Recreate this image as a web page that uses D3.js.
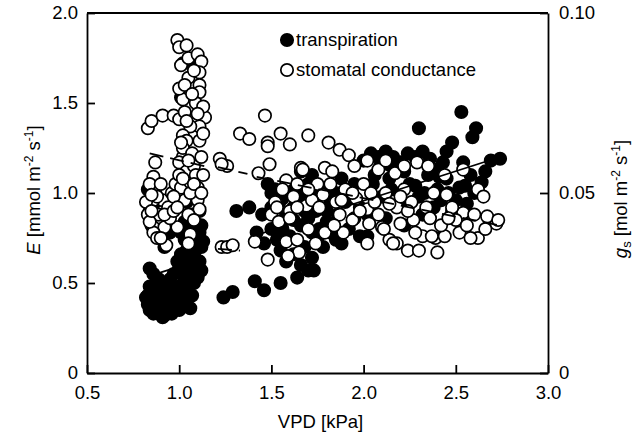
<!DOCTYPE html>
<html><head><meta charset="utf-8">
<script src="https://cdn.jsdelivr.net/npm/d3@7/dist/d3.min.js"></script>
<style>
html,body{margin:0;padding:0;background:#fff;}
svg{display:block;font-family:Arial,"Liberation Sans",sans-serif;}
</style></head>
<body><svg id="c" width="640" height="437"></svg>
<script>
// ---- data ----
const xTicks = [0.5, 1.0, 1.5, 2.0, 2.5, 3.0];
const eTicks = [0, 0.5, 1.0, 1.5, 2.0];
const gsTicks = [0, 0.05, 0.10];
const legendLabels = ["transpiration", "stomatal conductance"];

// transpiration E [mmol m-2 s-1] vs VPD [kPa]
const transpVPD = [
 0.83,0.83,0.84,0.85,0.85,0.86,0.86,0.87,0.87,0.88,0.88,0.89,0.90,0.90,0.91,0.92,0.92,0.93,0.94,0.95,0.95,0.84,0.89,0.96,0.97,
 0.82,0.84,0.86,0.88,0.91,0.93,0.95,0.97,0.99,1.01,1.03,1.05,1.07,1.09,1.11,1.13,1.12,1.00,1.06,0.96,0.99,
 0.83,0.84,0.85,0.88,0.92,0.95,0.87,0.94,
 0.98,0.99,1.00,1.01,1.02,1.03,1.04,1.05,1.06,1.07,1.08,1.09,1.10,1.11,1.12,1.00,1.02,1.04,1.06,1.08,1.10,1.12,1.01,1.03,1.05,1.07,1.09,1.11,1.04,1.08,1.01,1.02,1.09,
 1.24,1.29,1.41,1.46,1.55,1.64,1.70,1.73,1.31,1.38,
 1.48,1.52,1.56,1.60,1.65,1.70,1.50,1.58,1.62,1.68,1.74,
 1.45,1.50,1.54,1.58,1.62,1.66,1.70,1.74,1.78,1.82,1.86,1.76,1.80,1.56,1.60,1.66,1.72,
 1.42,1.46,1.50,1.53,1.55,1.58,1.62,1.66,1.68,1.72,1.75,1.78,1.82,1.85,1.88,1.92,1.95,1.98,
 1.66,1.72,2.00,2.04,2.08,2.12,2.16,2.20,2.24,2.28,2.32,2.36,2.09,
 2.05,2.10,2.15,2.20,2.25,2.30,2.35,2.40,2.45,2.50,2.55,2.60,2.38,2.48,1.85,1.90,1.95,1.80,1.88,1.98,2.02,
 2.06,2.14,2.22,2.28,2.33,2.42,2.46,2.56,2.58,2.64,2.66,
 2.53,2.30,2.61,2.59,2.48,2.45,2.43,2.69,2.74,2.54,2.41,2.52,2.40,2.15,
 2.02,2.12,2.22,2.32
];
const transpE = [
 0.38,0.43,0.35,0.40,0.47,0.33,0.55,0.38,0.44,0.35,0.50,0.41,0.34,0.46,0.38,0.32,0.43,0.36,0.40,0.34,0.47,0.58,0.52,0.39,0.43,
 0.42,0.48,0.37,0.42,0.31,0.47,0.52,0.55,0.62,0.66,0.74,0.60,0.64,0.70,0.78,0.73,0.82,0.35,0.36,0.33,0.56,
 1.02,0.90,0.82,0.76,0.70,0.78,0.95,0.88,
 0.36,0.42,0.48,0.38,0.45,0.52,0.40,0.47,0.55,0.43,0.50,0.58,0.53,0.62,0.57,0.58,0.64,0.68,0.72,0.66,0.75,0.70,0.78,0.84,0.80,0.88,0.83,0.90,0.95,0.99,1.53,1.72,1.70,
 0.42,0.45,0.51,0.46,0.50,0.53,0.57,0.57,0.90,0.92,
 1.05,1.02,0.97,1.00,0.95,1.05,0.92,0.88,0.85,0.90,0.98,
 0.88,1.00,0.94,1.02,0.92,1.00,0.86,0.90,1.02,0.96,0.88,0.80,0.84,0.80,0.76,0.82,0.78,
 0.78,0.72,0.80,0.74,0.68,0.62,0.66,0.60,0.70,0.64,0.75,0.70,0.78,0.74,0.72,0.80,0.86,0.76,
 1.12,1.10,1.18,1.22,1.20,1.23,1.20,1.17,1.22,1.20,1.23,1.19,1.15,
 1.05,0.98,1.02,0.95,1.05,0.98,1.10,1.02,1.08,0.96,1.04,1.00,0.92,0.90,1.00,0.95,1.05,0.90,1.08,0.92,0.88,
 1.10,1.08,1.12,1.04,1.00,0.96,1.00,0.94,1.10,1.06,1.12,
 1.45,1.36,1.36,1.31,1.28,1.23,1.17,1.18,1.19,1.17,1.09,1.03,1.13,1.15,
 0.76,0.86,0.82,0.88
];

// stomatal conductance gs [mol m-2 s-1] vs VPD [kPa]
const gsVPD = [
 0.83,0.85,0.91,0.97,1.00,0.87,0.86,0.87,0.91,0.86,0.82,0.86,0.92,0.99,1.06,1.05,0.93,0.86,0.84,0.83,0.89,0.94,0.96,0.88,0.95,
 0.84,0.85,0.88,0.90,0.92,0.97,0.98,0.85,0.90,
 0.99,1.00,1.01,1.05,1.10,1.12,1.11,1.05,1.11,1.11,1.02,1.14,1.11,1.06,1.02,1.04,1.02,1.00,1.11,1.13,1.01,1.06,1.10,1.10,1.03,0.97,0.99,1.11,1.04,1.08,1.02,1.07,1.09,1.00,1.05,1.08,1.03,1.09,1.00,1.06,
 1.04,1.08,1.03,1.07,1.13,1.04,1.10,1.12,1.01,1.05,1.13,1.02,1.08,1.12,
 1.22,1.26,1.23,1.23,1.26,1.29,
 1.465,1.33,1.38,1.48,1.55,1.60,1.48,1.70,1.49,1.43,1.66,1.58,
 1.81,1.87,1.92,1.67,1.79,1.83,2.02,2.08,2.17,2.29,
 1.69,1.78,1.87,1.79,1.89,1.94,2.02,2.03,2.10,2.02,2.14,2.18,2.24,2.30,2.20,2.27,2.32,2.16,2.40,2.39,2.44,2.52,2.62,2.72,2.11,
 2.54,2.62,2.65,2.45,2.54,2.67,2.73,2.58,2.37,2.38,
 1.52,1.56,1.62,1.50,1.54,1.60,1.64,1.72,1.75,1.85,1.90,1.96,2.00,2.06,2.12,2.18,2.22,2.26,2.34,2.48,2.50,1.41,1.48,1.58,1.65,1.59,1.64,1.53,1.64,1.60,
 1.70,1.76,1.82,1.88,1.94,1.98,2.04,2.08,2.14,2.20,2.24,2.28,2.36,2.42,2.46,2.56,2.60,2.66,1.95,2.12,2.22,2.35,2.44,1.70,1.74,1.84
];
const gsVal = [
 0.068,0.070,0.0715,0.0715,0.0705,0.0585,0.0545,0.051,0.048,0.048,0.0475,0.0405,0.0405,0.0405,0.0385,0.036,0.0355,0.039,0.0525,0.044,0.044,0.046,0.050,0.0375,0.043,
 0.042,0.045,0.049,0.0525,0.044,0.045,0.0525,0.0495,0.0375,
 0.0925,0.0905,0.0855,0.0875,0.0885,0.0865,0.0835,0.082,0.080,0.078,0.076,0.071,0.0685,0.0685,0.066,0.0645,0.060,0.0585,0.0645,0.0665,0.0515,0.053,0.0515,0.048,0.048,0.049,0.046,0.0455,0.056,0.0575,0.0625,0.061,0.055,0.055,0.044,0.0425,0.0725,0.075,0.079,0.050,
 0.091,0.084,0.080,0.0775,0.074,0.070,0.072,0.060,0.064,0.059,0.055,0.054,0.0525,0.050,
 0.0595,0.0575,0.058,0.035,0.035,0.0355,
 0.0715,0.0665,0.065,0.064,0.0665,0.0635,0.063,0.066,0.058,0.0555,0.057,0.0535,
 0.064,0.062,0.0605,0.0565,0.057,0.056,0.059,0.0565,0.0555,0.0585,
 0.0465,0.0495,0.044,0.039,0.039,0.0425,0.0455,0.0415,0.0405,0.036,0.037,0.036,0.034,0.034,0.0415,0.0425,0.038,0.036,0.0335,0.0375,0.038,0.039,0.0375,0.0415,0.040,
 0.0565,0.051,0.049,0.0495,0.0445,0.0435,0.0425,0.0375,0.038,0.050,
 0.0475,0.051,0.049,0.044,0.042,0.045,0.0525,0.048,0.0525,0.0475,0.051,0.0485,0.0525,0.0475,0.050,0.046,0.051,0.0475,0.046,0.046,0.0425,0.0365,0.0315,0.0365,0.0335,0.0325,0.037,0.046,0.046,0.043,
 0.051,0.046,0.0525,0.048,0.050,0.045,0.050,0.044,0.047,0.049,0.045,0.039,0.043,0.041,0.043,0.041,0.044,0.040,0.0575,0.059,0.0575,0.0575,0.055,0.040,0.036,0.041
];

// fitted lines (start/end VPD and value)
const eFitVPD = [[0.84, 1.12], [1.40, 2.74]];
const eFitVal = [[0.54, 0.63], [0.76, 1.20]];
const gsFitVPD = [[0.84, 1.16], [1.21, 1.37], [1.42, 2.74], [1.21, 1.33]];
const gsFitVal = [[0.061, 0.0572], [0.0572, 0.0553], [0.0545, 0.041], [0.0345, 0.034]];

// ---- chart ----
const svg = d3.select("#c");
const L = 87, R = 548, T = 13, B = 373;
const x = d3.scaleLinear().domain([0.5, 3.0]).range([L, R]);
const yE = d3.scaleLinear().domain([0, 2]).range([B, T]);
const yG = d3.scaleLinear().domain([0, 0.1]).range([B, T]);
const FS = 18.5, rad = 6.2, sw = 1.7;

const tAxisFmt = (f) => d => d === 0 ? "0" : d3.format(f)(d);

const gx = svg.append("g").attr("transform", `translate(0,${B})`)
  .call(d3.axisBottom(x).tickValues(xTicks).tickFormat(d3.format(".1f")).tickSizeInner(-8).tickSizeOuter(0).tickPadding(13));
const gl = svg.append("g").attr("transform", `translate(${L},0)`)
  .call(d3.axisLeft(yE).tickValues(eTicks).tickFormat(tAxisFmt(".1f")).tickSizeInner(-8).tickSizeOuter(0).tickPadding(9));
const gr = svg.append("g").attr("transform", `translate(${R},0)`)
  .call(d3.axisRight(yG).tickValues(gsTicks).tickFormat(tAxisFmt(".2f")).tickSizeInner(-8).tickSizeOuter(0).tickPadding(11));
[gx, gl, gr].forEach(g => {
  g.selectAll("text").attr("font-size", FS).attr("fill", "#000").attr("font-family", 'Arial,"Liberation Sans",sans-serif');
  g.selectAll("line").attr("stroke", "#000").attr("stroke-width", 1.8);
  g.select(".domain").attr("stroke", "#000").attr("stroke-width", 1.8);
});
// top border
svg.append("line").attr("x1", L).attr("x2", R).attr("y1", T).attr("y2", T).attr("stroke", "#000").attr("stroke-width", 1.8);

const plot = svg.append("g");
// transpiration (filled)
plot.selectAll("circle.e").data(transpVPD.map((v, i) => [v, transpE[i]])).join("circle")
  .attr("class", "e").attr("cx", d => x(d[0])).attr("cy", d => yE(d[1])).attr("r", rad)
  .attr("fill", "#000").attr("stroke", "#000").attr("stroke-width", sw);
// gs (open)
plot.selectAll("circle.g").data(gsVPD.map((v, i) => [v, gsVal[i]])).join("circle")
  .attr("class", "g").attr("cx", d => x(d[0])).attr("cy", d => yG(d[1])).attr("r", rad)
  .attr("fill", "#fff").attr("stroke", "#000").attr("stroke-width", sw);

// fit lines
eFitVPD.forEach((xs, i) => {
  plot.append("line").attr("x1", x(xs[0])).attr("x2", x(xs[1]))
    .attr("y1", yE(eFitVal[i][0])).attr("y2", yE(eFitVal[i][1]))
    .attr("stroke", "#000").attr("stroke-width", 1.8);
});
gsFitVPD.forEach((xs, i) => {
  plot.append("line").attr("x1", x(xs[0])).attr("x2", x(xs[1]))
    .attr("y1", yG(gsFitVal[i][0])).attr("y2", yG(gsFitVal[i][1]))
    .attr("stroke", "#000").attr("stroke-width", 1.8).attr("stroke-dasharray", "14,7");
});

// legend
const lg = svg.append("g");
[0, 1].forEach(i => {
  const cy = 40 + i * 30;
  lg.append("circle").attr("cx", 287).attr("cy", cy).attr("r", rad)
    .attr("fill", i === 0 ? "#000" : "#fff").attr("stroke", "#000").attr("stroke-width", sw);
  lg.append("text").attr("x", 296).attr("y", cy + 6).attr("font-size", FS).text(legendLabels[i]);
});

// axis titles
svg.append("text").attr("x", (L + R) / 2 + 3).attr("y", 428).attr("text-anchor", "middle")
  .attr("font-size", FS).text("VPD [kPa]");

const lt = svg.append("text").attr("text-anchor", "middle").attr("font-size", FS)
  .attr("transform", "translate(40,190) rotate(-90)");
lt.append("tspan").attr("font-style", "italic").text("E");
lt.append("tspan").text(" [mmol m");
lt.append("tspan").attr("dy", -7).attr("font-size", 12).text("-2");
lt.append("tspan").attr("dy", 7).text(" s");
lt.append("tspan").attr("dy", -7).attr("font-size", 12).text("-1");
lt.append("tspan").attr("dy", 7).text("]");

const rt = svg.append("text").attr("text-anchor", "middle").attr("font-size", FS)
  .attr("transform", "translate(627,199) rotate(-90)");
rt.append("tspan").attr("font-style", "italic").text("g");
rt.append("tspan").attr("dy", 4).attr("font-size", 13).text("s");
rt.append("tspan").attr("dy", -4).text(" [mol m");
rt.append("tspan").attr("dy", -7).attr("font-size", 12).text("-2");
rt.append("tspan").attr("dy", 7).text(" s");
rt.append("tspan").attr("dy", -7).attr("font-size", 12).text("-1");
rt.append("tspan").attr("dy", 7).text("]");
</script>
</body></html>
